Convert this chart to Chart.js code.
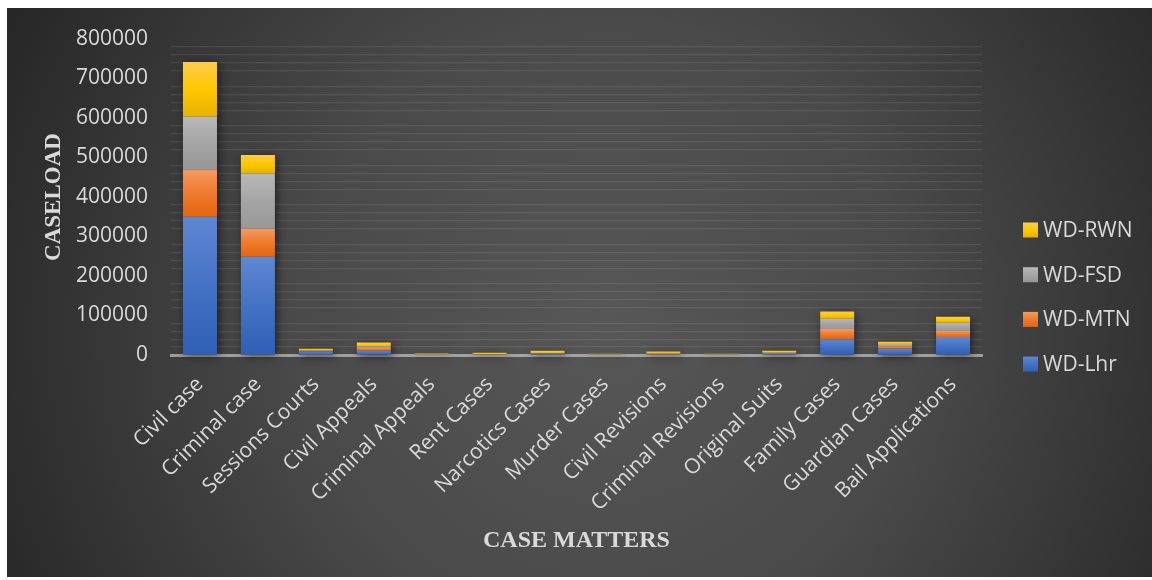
<!DOCTYPE html>
<html>
<head>
<meta charset="utf-8">
<script src="https://cdn.jsdelivr.net/npm/chart.js@4"></script>
<style>
  html, body { margin: 0; padding: 0; background: #ffffff; }
  #wrap { position: absolute; left: 7px; top: 8px; width: 1145px; height: 569px; }
</style>
</head>
<body>
<div id="wrap"><canvas id="caseChart"></canvas></div>
<script>
// case matters on the x axis
const categories = [
  "Civil case", "Criminal case", "Sessions Courts", "Civil Appeals",
  "Criminal Appeals", "Rent Cases", "Narcotics Cases", "Murder Cases",
  "Civil Revisions", "Criminal Revisions", "Original Suits", "Family Cases",
  "Guardian Cases", "Bail Applications",
];

// caseload per division
const wdLhr = [350000, 249000, 9000, 11000, 1000, 1500, 4000, 1000, 2000, 1000, 5000, 40000, 16000, 45500];
const wdMtn = [119000, 70500, 1500, 7000, 500, 500, 500, 300, 1500, 300, 500, 26000, 6000, 15500];
const wdFsd = [134000, 140000, 1500, 3500, 500, 800, 500, 500, 1000, 500, 500, 26000, 6000, 20500];
const wdRwn = [139000, 47000, 4000, 10000, 2000, 3000, 6000, 1500, 4500, 1500, 5000, 18000, 5500, 15500];

const seriesNames = ["WD-Lhr", "WD-MTN", "WD-FSD", "WD-RWN"];
const seriesData = [wdLhr, wdMtn, wdFsd, wdRwn];

// top / middle / bottom shades for each series
const shades = [
  ["#5f87d3", "#4472c4", "#2f5eb5"],
  ["#f49a62", "#f07a2c", "#e2660f"],
  ["#b8b8b8", "#a5a5a5", "#979797"],
  ["#ffcb4a", "#ffc800", "#e6b200"],
];

const yMax = 800000;
const yStep = 20000;
const yLabelStep = 100000;

// vertical gradient across each stacked segment
function segmentFill(ds) {
  return (c) => {
    const chart = c.chart;
    const y = chart.scales.y;
    if (c.type !== "data" || !chart.chartArea || !y) return shades[ds][1];
    const i = c.dataIndex;
    let base = 0;
    for (let d = 0; d < ds; d++) base += seriesData[d][i];
    const top = base + seriesData[ds][i];
    const y0 = y.getPixelForValue(top);
    const y1 = y.getPixelForValue(base);
    if (!isFinite(y0) || !isFinite(y1) || y0 === y1) return shades[ds][1];
    const g = chart.ctx.createLinearGradient(0, y0, 0, y1);
    g.addColorStop(0, shades[ds][0]);
    g.addColorStop(0.5, shades[ds][1]);
    g.addColorStop(1, shades[ds][2]);
    return g;
  };
}

const backdrop = {
  id: "backdrop",
  beforeDraw(chart) {
    const { ctx, width, height } = chart;
    const g = ctx.createRadialGradient(600, 320, 0, 600, 320, 680);
    g.addColorStop(0, "#575757");
    g.addColorStop(0.45, "#4a4a4a");
    g.addColorStop(1, "#262626");
    ctx.save();
    ctx.fillStyle = g;
    ctx.fillRect(0, 0, width, height);
    ctx.restore();
  },
};

// soft shadow behind every stacked column
const barShadow = {
  id: "barShadow",
  beforeDatasetsDraw(chart) {
    const { ctx } = chart;
    const first = chart.getDatasetMeta(0).data;
    const last = chart.getDatasetMeta(chart.data.datasets.length - 1).data;
    ctx.save();
    ctx.shadowColor = "rgba(0,0,0,0.6)";
    ctx.shadowBlur = 9;
    ctx.shadowOffsetX = 2;
    ctx.shadowOffsetY = 2;
    ctx.fillStyle = "#3a3a3a";
    first.forEach((bar, i) => {
      const top = last[i].y;
      const w = bar.width;
      ctx.fillRect(bar.x - w / 2, top, w, bar.base - top);
    });
    ctx.restore();
  },
};

// legend on the right, last series on top
const sideLegend = {
  id: "sideLegend",
  afterDraw(chart) {
    const { ctx, chartArea } = chart;
    const x = chartArea.right + 41;
    const startY = chartArea.top + 191;
    const gap = 44.7;
    const n = chart.data.datasets.length;
    ctx.save();
    ctx.font = '21px "Open Sans"';
    ctx.textBaseline = "middle";
    ctx.textAlign = "left";
    for (let k = 0; k < n; k++) {
      const ds = n - 1 - k;
      const cy = startY + k * gap;
      const g = ctx.createLinearGradient(0, cy - 7.5, 0, cy + 7.5);
      g.addColorStop(0, shades[ds][0]);
      g.addColorStop(0.5, shades[ds][1]);
      g.addColorStop(1, shades[ds][2]);
      ctx.fillStyle = g;
      ctx.fillRect(x, cy - 7.5, 15, 15);
      ctx.fillStyle = "#d9d9d9";
      ctx.fillText(chart.data.datasets[ds].label, x + 20, cy + 1);
    }
    ctx.restore();
  },
};

const datasets = seriesNames.map((name, ds) => ({
  label: name,
  data: seriesData[ds],
  backgroundColor: segmentFill(ds),
  borderWidth: 0,
  categoryPercentage: 1,
  barPercentage: 0.587,
}));

new Chart(document.getElementById("caseChart"), {
  type: "bar",
  data: { labels: categories, datasets },
  options: {
    responsive: true,
    maintainAspectRatio: false,
    animation: false,
    layout: { padding: { top: 31, right: 170, bottom: 0, left: 0 } },
    plugins: {
      legend: { display: false },
      tooltip: { enabled: false },
    },
    scales: {
      x: {
        stacked: true,
        z: 1,
        grid: { display: false, drawTicks: false },
        border: { display: true, color: "rgba(190,190,190,0.75)", width: 3 },
        ticks: {
          color: "#d9d9d9",
          font: { family: "Open Sans", size: 21 },
          maxRotation: 45,
          minRotation: 45,
          autoSkip: false,
          padding: 17,
        },
        title: {
          display: true,
          text: "CASE MATTERS",
          color: "#d9d9d9",
          font: { family: "Liberation Serif", size: 24, weight: "bold" },
          padding: { top: 0, bottom: 22 },
        },
        afterFit(scale) {
          scale.height = 222;
          scale.paddingLeft = 0;
          scale.paddingRight = 0;
        },
      },
      y: {
        stacked: true,
        min: 0,
        max: yMax,
        grid: {
          drawTicks: false,
          lineWidth: 1.2,
          color: (c) =>
            c.tick && c.tick.value % yLabelStep === 0
              ? "rgba(0,0,0,0)"
              : "rgba(255,255,255,0.085)",
        },
        border: { display: false },
        ticks: {
          stepSize: yStep,
          autoSkip: false,
          color: "#d9d9d9",
          font: { family: "Open Sans", size: 21 },
          padding: 23,
          callback: (v) => (v % yLabelStep === 0 ? String(v) : ""),
        },
        title: {
          display: true,
          text: "CASELOAD",
          color: "#d9d9d9",
          font: { family: "Liberation Serif", size: 23, weight: "bold" },
          padding: { top: 33, bottom: 0 },
        },
        afterFit(scale) {
          scale.width = 164;
          scale.paddingTop = 0;
          scale.paddingBottom = 0;
        },
      },
    },
  },
  plugins: [backdrop, barShadow, sideLegend],
});
</script>
</body>
</html>
